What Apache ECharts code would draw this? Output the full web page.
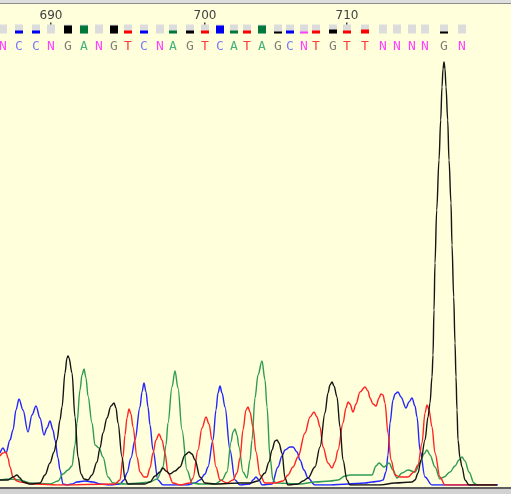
<!DOCTYPE html>
<html><head><meta charset="utf-8">
<script src="https://cdn.jsdelivr.net/npm/echarts@6/dist/echarts.min.js"></script>
<style>html,body{margin:0;padding:0;background:#ffffdc;}#c{width:511px;height:494px;}</style>
</head><body><div id="c"></div>
<script>
// ---- chromatogram traces: [scan position, signal amplitude] ----
const traceC = [[0,32],[3,37],[6,32],[10,45],[13,55],[16,75],[19,86],[23,75],[28,53],[32,70],[36,79],[40,67],[44,50],[47,57],[50,64],[53,55],[55,45],[58,27],[60,15],[63,1],[67,0],[72,1],[77,3],[85,4],[93,3],[100,1],[110,0],[120,1],[124,5],[127,12],[131,27],[135,45],[140,78],[142,93],[144,102],[146,93],[148,78],[150,60],[153,35],[158,5],[163,0],[187,0],[195,2],[200,5],[205,11],[208,18],[213,45],[216,75],[218,92],[220,99],[222,92],[225,78],[230,35],[235,5],[240,0],[250,1],[253,5],[256,8],[259,5],[262,0],[272,1],[278,18],[282,29],[285,35],[290,38],[293,38],[297,33],[300,25],[304,15],[308,7],[315,0],[330,0],[348,1],[365,2],[372,3],[380,4],[383,5],[386,13],[388,30],[390,62],[393,85],[395,91],[398,93],[401,88],[406,77],[409,83],[412,87],[415,79],[417,68],[420,35],[425,8],[432,0],[498,0]];
const traceT = [[0,29],[3,32],[6,33],[8,27],[10,18],[13,8],[17,4],[20,3],[33,1],[60,0],[115,1],[120,5],[123,28],[125,50],[127,67],[129,76],[131,71],[133,58],[137,28],[140,13],[144,8],[147,8],[150,17],[153,32],[156,45],[159,51],[162,45],[165,32],[168,12],[173,2],[180,0],[190,2],[193,7],[198,35],[202,57],[206,68],[209,61],[212,45],[216,18],[220,5],[227,2],[233,5],[237,12],[240,27],[243,55],[246,75],[248,78],[250,73],[253,58],[256,33],[260,10],[265,2],[275,2],[283,4],[288,10],[293,18],[298,28],[305,52],[310,68],[314,73],[317,68],[320,58],[323,38],[328,22],[332,17],[335,23],[338,35],[343,62],[346,77],[348,83],[350,81],[353,73],[356,81],[360,93],[365,98],[368,94],[370,87],[373,81],[376,79],[379,87],[381,91],[383,90],[385,82],[388,52],[391,25],[395,10],[400,8],[408,8],[414,13],[418,20],[422,42],[425,72],[427,80],[429,75],[432,58],[435,32],[440,8],[445,0],[497,0]];
const traceA = [[0,5],[10,6],[20,5],[30,2],[50,1],[58,4],[63,11],[68,15],[72,19],[75,40],[77,62],[80,95],[82,110],[84,116],[86,107],[88,89],[92,62],[95,40],[99,37],[103,28],[108,8],[113,2],[125,1],[140,2],[150,3],[157,6],[163,18],[166,40],[168,62],[172,98],[175,114],[178,97],[182,55],[187,15],[192,2],[200,1],[215,1],[222,5],[227,13],[231,43],[233,53],[235,56],[237,50],[239,38],[243,13],[247,7],[250,25],[252,45],[255,87],[258,110],[262,124],[265,105],[267,78],[270,28],[273,5],[276,2],[300,1],[315,3],[330,4],[338,5],[345,9],[350,10],[372,10],[376,19],[379,22],[384,18],[389,22],[393,15],[397,7],[402,12],[408,15],[415,13],[420,22],[424,31],[427,35],[430,30],[435,18],[440,6],[444,8],[450,13],[455,19],[459,25],[462,28],[465,24],[469,13],[474,2],[477,0],[497,0]];
const traceG = [[0,5],[8,5],[13,8],[17,10],[20,7],[23,3],[30,1],[40,2],[45,10],[50,22],[54,33],[57,45],[60,65],[62,78],[65,112],[67,127],[68,129],[69,127],[72,112],[75,68],[78,28],[81,11],[84,6],[88,5],[92,10],[97,23],[100,37],[103,52],[107,67],[111,79],[114,82],[116,77],[118,62],[122,28],[125,6],[128,1],[145,1],[150,3],[155,9],[160,13],[163,17],[166,14],[170,11],[175,14],[180,18],[185,30],[189,33],[192,31],[195,25],[200,8],[205,2],[215,1],[240,2],[250,2],[258,4],[265,12],[269,23],[272,35],[275,44],[277,45],[279,42],[282,32],[285,7],[288,0],[298,1],[303,4],[308,7],[315,18],[320,38],[325,72],[328,92],[330,100],[332,103],[334,99],[337,88],[340,58],[343,25],[347,5],[350,0],[380,0],[395,2],[412,3],[415,5],[418,12],[421,25],[425,45],[428,68],[430,82],[432,108],[433,130],[434,175],[435,222],[436.7,275],[439,325],[440.7,365],[442,398],[443,416],[444,423],[445,416],[446,398],[447.7,365],[449,325],[451,282],[452,240],[453.7,188],[455,142],[456,108],[457,75],[458,45],[460,27],[462,18],[465,5],[469,0],[497,0]];

// ---- base calls ----
const baseCalls = ['N','C','C','N','G','A','N','G','T','C','N','A','G','T','C','A','T','A','G','C','N','T','G','T','T','N','N','N','N','G','N'];
const baseX = [3,19,36,51,68,84,99,114,128,144,160,173,190,205,220,234,247,262,278,290,304,316,333,347,365,383,397,412,425,444,462];
const baseQuality = [0,3,3,0,8,8,0,8,3,3,0,3,3,3,8,3,3,8,2,3,2,3,4,3,4,0,0,0,0,2,0];
const firstBasePos = 687;

// ---- styling ----
const traceColor = {G:'#151515', A:'#2e9a55', C:'#2424ff', T:'#ff2424'};
const letterColor = {N:'#ff40ff', C:'#7a7af6', G:'#7f7f78', A:'#45b27a', T:'#ff3c3c'};
const qualColor = {G:'#000000', A:'#00783c', C:'#0000f0', T:'#ff0000', N:'#ff40ff'};
const Y_MAX = 485;
const LETTER_Y = 438.5, QUAL_BOTTOM = 451.5, QUAL_BOX = 9, POS_Y = 469, TICK_Y = 461.5;

const posLabels = [];
baseCalls.forEach((b,i)=>{ const p = firstBasePos + i; if (p % 10 === 0) posLabels.push([baseX[i], p]); });

function lineSeries(data, key){
  return {type:'line', data:data, smooth:0.35, smoothMonotone:'x', showSymbol:false, symbol:'none',
    lineStyle:{color:traceColor[key], width:1.4}, z:3, silent:true};
}

const chart = echarts.init(document.getElementById('c'));
chart.setOption({
  animation:false,
  backgroundColor:'#ffffdc',
  grid:{left:0, right:0, top:0, bottom:9, containLabel:false},
  xAxis:{type:'value', min:0, max:511, show:false},
  yAxis:{type:'value', min:0, max:Y_MAX, show:false},
  graphic:[
    {type:'rect', shape:{x:0,y:0,width:511,height:3}, style:{fill:'#dedede'}, z:100},
    {type:'rect', shape:{x:0,y:3,width:511,height:1}, style:{fill:'#8c8c8c'}, z:100},
    {type:'rect', shape:{x:0,y:487,width:511,height:2}, style:{fill:'#5e5e5e'}, z:100},
    {type:'rect', shape:{x:0,y:489,width:511,height:5}, style:{fill:'#d2d2d2'}, z:100}
  ],
  series:[
    lineSeries(traceC,'C'),
    lineSeries(traceA,'A'),
    lineSeries(traceT,'T'),
    lineSeries(traceG,'G'),
    {type:'custom', silent:true, z:5,
      data: baseX.map((x,i)=>[x, baseQuality[i]]),
      renderItem:function(params, api){
        const x = api.value(0), q = api.value(1), b = baseCalls[params.dataIndex];
        const pb = api.coord([x, QUAL_BOTTOM]);
        const pt = api.coord([x, QUAL_BOTTOM + QUAL_BOX]);
        const pq = api.coord([x, QUAL_BOTTOM + q]);
        const w = 8;
        const ch = [{type:'rect', shape:{x:Math.round(pb[0]-w/2), y:pt[1], width:w, height:pb[1]-pt[1]}, style:{fill:'#dcdcdc'}}];
        if (q > 0) ch.push({type:'rect', shape:{x:Math.round(pb[0]-w/2), y:pq[1], width:w, height:pb[1]-pq[1]}, style:{fill:qualColor[b]}});
        return {type:'group', children:ch};
      }},
    {type:'custom', silent:true, z:5,
      data: baseX.map((x,i)=>[x, LETTER_Y]),
      renderItem:function(params, api){
        const p = api.coord([api.value(0), api.value(1)]);
        const b = baseCalls[params.dataIndex];
        return {type:'text', x:p[0], y:p[1], style:{text:b, fill:letterColor[b],
          font:'13px "DejaVu Sans Mono", monospace', align:'center', verticalAlign:'middle',
          textAlign:'center', textVerticalAlign:'middle'}};
      }},
    {type:'custom', silent:true, z:5,
      data: posLabels,
      renderItem:function(params, api){
        const x = api.value(0), pos = api.value(1);
        const p = api.coord([x, POS_Y]);
        const t = api.coord([x, TICK_Y]);
        return {type:'group', children:[
          {type:'text', x:p[0], y:p[1], style:{text:String(pos), fill:'#404040',
            font:'12px "DejaVu Sans", sans-serif', align:'center', verticalAlign:'middle',
            textAlign:'center', textVerticalAlign:'middle'}},
          {type:'rect', shape:{x:Math.round(t[0])-1, y:t[1]-1, width:1.5, height:2}, style:{fill:'#404040'}}
        ]};
      }}
  ]
});
</script>
</body></html>
